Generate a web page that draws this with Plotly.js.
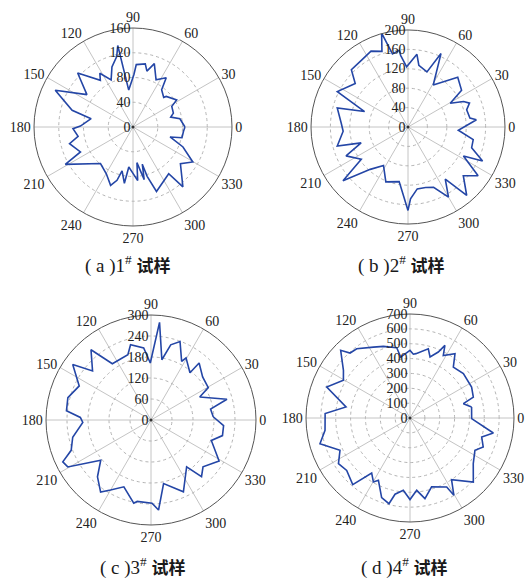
<!DOCTYPE html>
<html>
<head>
<meta charset="utf-8">
<script src="https://cdn.plot.ly/plotly-3.0.1.min.js"></script>
<style>html,body{margin:0;padding:0;background:#fff;}#chart{width:526px;height:578px;}</style>
</head>
<body>
<div id="chart"></div>
<script>
// ---- data (angle in degrees, value) ----
const thetaA = [0, 10, 14.7, 19, 28, 31.8, 42.6, 44, 52.5, 56, 64, 71.4, 76, 79, 87, 89, 96.6, 100.6, 103, 109.3, 114.9, 121.7, 125, 135.7, 144.9, 154.7, 164.7, 168.8, 179, 181.6, 189.6, 194.7, 205.4, 208.9, 228.3, 240.3, 249, 253.3, 256, 261.3, 264, 270, 275, 276.3, 282, 284, 286, 290, 307.4, 309.8, 322.2, 329.7, 338.2, 345, 347.7, 355.5];
const rA = [84, 77, 63, 69, 71, 83, 73, 69, 76, 96, 85, 108, 93, 104, 101, 85, 60, 134, 117, 103, 84, 102, 92, 125, 91, 139, 102, 69, 85, 97, 90, 106, 94, 125, 79, 87, 101, 90, 73, 92, 65, 75, 87, 58, 87, 62, 83, 111, 95, 126, 97, 112, 87, 62, 81, 82];

const thetaB = [6, 8.2, 16.3, 21.2, 24.6, 29.4, 34.5, 45, 59, 65.8, 71, 80, 83, 91.3, 95.8, 96.6, 102, 105.7, 109, 116, 124.5, 134.7, 140.5, 153.4, 160.4, 165, 176.6, 183.8, 195, 198.7, 205, 214.6, 219.6, 228.3, 237.5, 248, 260.8, 270, 272, 278.5, 286.2, 293, 300, 305.6, 310.6, 318.6, 325.2, 332.4, 335.5, 342, 349, 356.3];
const rB = [142, 129, 126, 136, 126, 100, 134, 145, 101, 166, 120, 129, 151, 124, 148, 159, 154, 201, 165, 174, 168, 166, 141, 163, 95, 151, 138, 134, 151, 102, 141, 117, 174, 117, 94, 122, 114, 172, 148, 129, 130, 135, 167, 132, 186, 152, 176, 129, 169, 138, 137, 104];

const thetaC = [3, 10.4, 15.3, 25.3, 29.5, 39.8, 49.8, 50.5, 60.6, 62.4, 69.7, 75.3, 79.8, 85, 90.7, 95.8, 105.2, 109.5, 124.5, 130.5, 140, 144.7, 154.6, 164.9, 173.8, 177.9, 182, 192.4, 200.8, 205.4, 209.4, 218.7, 226.7, 235, 240, 247.9, 258.3, 260.4, 270.7, 274.8, 281.2, 294.3, 307.3, 311.7, 318, 329, 341.3, 347.7, 355.6];
const rC = [178, 173, 225, 154, 188, 192, 213, 175, 204, 189, 239, 222, 175, 280, 163, 207, 223, 198, 195, 264, 218, 274, 227, 246, 243, 202, 195, 229, 244, 279, 273, 184, 223, 251, 231, 206, 243, 236, 238, 258, 185, 225, 168, 217, 200, 227, 182, 209, 208];

const thetaD = [10.1, 15, 18.3, 26.7, 39.7, 49.6, 55, 62, 64.3, 66.8, 71.8, 75.2, 84.7, 87, 90, 98.7, 100.7, 110.4, 117.3, 127.6, 132.7, 135.7, 144.4, 150.5, 159.6, 170.2, 177, 188.3, 195.9, 204.8, 212.5, 219.6, 229.3, 235.1, 240.2, 243.1, 250.4, 256.2, 258.9, 264.7, 270, 275.3, 280.5, 287.4, 298, 299.6, 304, 314.7, 324.2, 333.6, 338.4, 345.2, 349.8, 359.4];
const rD = [421, 372, 449, 464, 467, 450, 528, 477, 542, 483, 432, 482, 435, 430, 455, 415, 481, 514, 537, 588, 595, 652, 551, 515, 598, 437, 572, 578, 630, 519, 571, 553, 591, 451, 496, 470, 569, 594, 523, 489, 549, 489, 552, 486, 526, 598, 500, 606, 525, 488, 530, 499, 570, 415];

const angleTicks = [0, 30, 60, 90, 120, 150, 180, 210, 240, 270, 300, 330];
const angleLabels = ['0', '30', '60', '90', '120', '150', '180', '210', '240', '270', '300', '330'];
const radialMax = [160, 200, 300, 700];
const radialStep = [40, 40, 60, 100];
const panelLetters = ['a', 'b', 'c', 'd'];
const panelNumbers = ['1', '2', '3', '4'];
const panelWord = '试样';

// ---- layout geometry (pixels) ----
const W = 526, H = 578;
const centers = [[133, 127, 99], [408, 127, 97], [151, 420, 105], [410, 418, 104]];
const titlePos = [[128, 264], [401, 264], [143, 566], [404, 566]];

const series = [[thetaA, rA], [thetaB, rB], [thetaC, rC], [thetaD, rD]];
const names = ['polar', 'polar2', 'polar3', 'polar4'];
const tickFont = {family: 'Liberation Serif', size: 14, color: '#222'};

const data = [];
series.forEach((s, i) => {
  data.push({
    type: 'scatterpolar',
    mode: 'lines',
    theta: s[0].concat([s[0][0]]),
    r: s[1].concat([s[1][0]]),
    subplot: names[i],
    line: {color: '#2446a6', width: 1.6},
    hoverinfo: 'skip',
    showlegend: false
  });
  data.push({
    type: 'scatterpolar', mode: 'markers', theta: [0], r: [0], subplot: names[i],
    marker: {color: '#333', size: 3}, hoverinfo: 'skip', showlegend: false
  });
});

const layout = {
  width: W, height: H,
  margin: {l: 0, r: 0, t: 0, b: 0},
  paper_bgcolor: '#fff',
  showlegend: false,
  annotations: []
};

centers.forEach((c, i) => {
  const [cx, cy, R] = c;
  layout[names[i]] = {
    domain: {x: [(cx - R) / W, (cx + R) / W], y: [1 - (cy + R) / H, 1 - (cy - R) / H]},
    bgcolor: '#fff',
    angularaxis: {
      rotation: 0, direction: 'counterclockwise',
      tickmode: 'array', tickvals: angleTicks, ticktext: angleLabels,
      showline: true, linecolor: '#555', linewidth: 1,
      showgrid: true, gridcolor: '#c4c4c4', gridwidth: 1,
      ticks: '', tickfont: tickFont
    },
    radialaxis: {
      range: [0, radialMax[i]],
      tickmode: 'linear', tick0: 0, dtick: radialStep[i],
      angle: 90, side: 'counterclockwise', tickangle: 90,
      showline: false, ticks: '',
      showgrid: true, gridcolor: '#b4b4b4', gridwidth: 1, griddash: 'dot',
      tickfont: tickFont
    }
  };
  layout.annotations.push({
    xref: 'paper', yref: 'paper',
    x: titlePos[i][0] / W, y: 1 - titlePos[i][1] / H,
    xanchor: 'center', yanchor: 'middle',
    text: '( ' + panelLetters[i] + ' )' + panelNumbers[i] + '<sup>#</sup> ' +
          "<span style='font-family:Noto Sans CJK SC;font-weight:bold;font-size:17px'>" + panelWord + '</span>',
    showarrow: false,
    font: {family: 'Liberation Serif', size: 19, color: '#1a1a1a'}
  });
});

Plotly.newPlot('chart', data, layout, {staticPlot: true, displayModeBar: false});
</script>
</body>
</html>
